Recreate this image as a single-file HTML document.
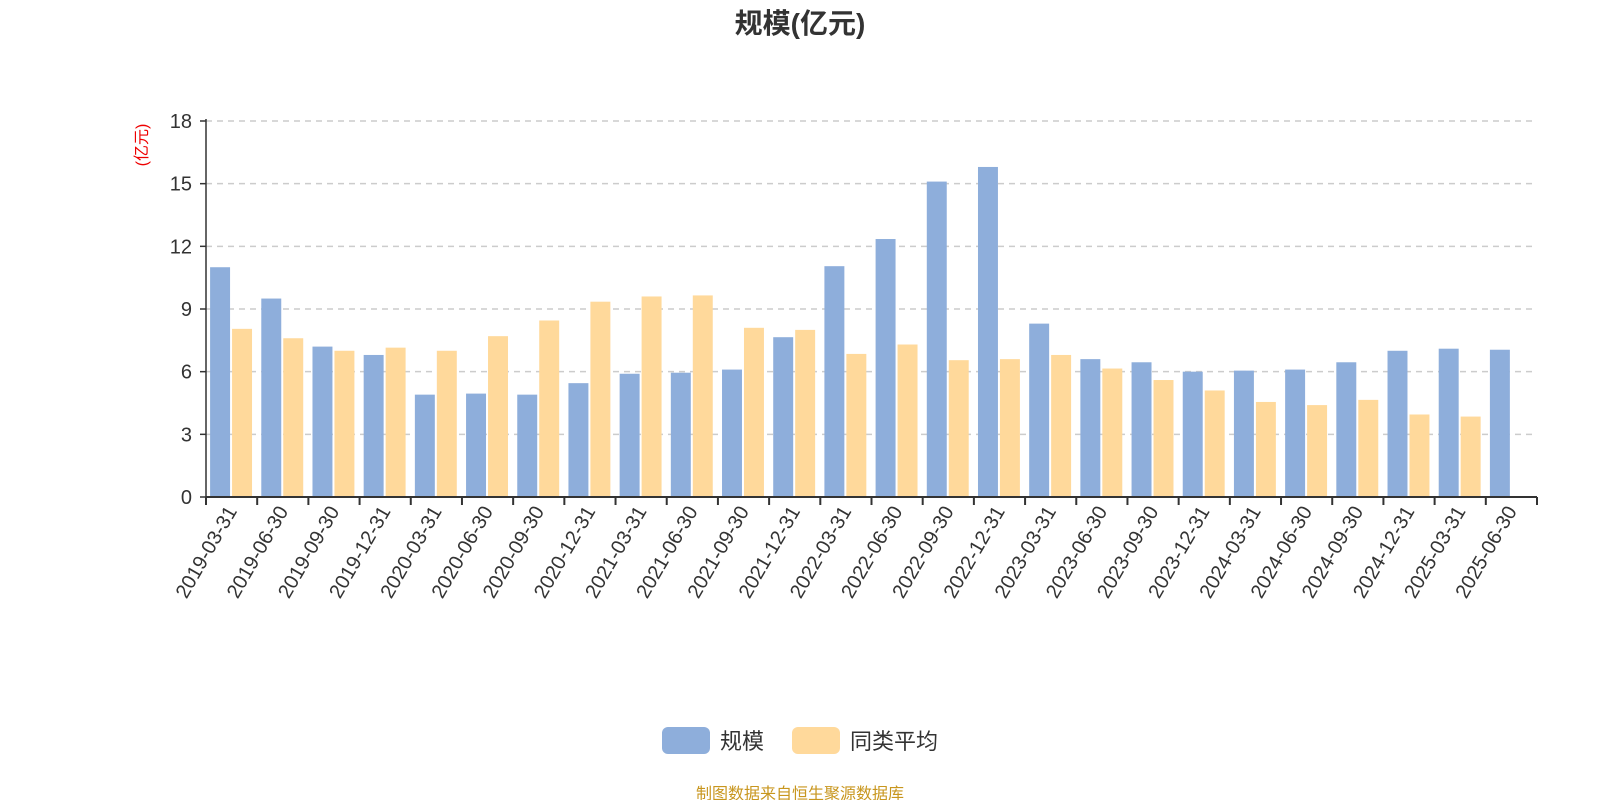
<!DOCTYPE html>
<html><head><meta charset="utf-8"><style>
body{margin:0;background:#fff;width:1600px;height:800px;overflow:hidden;font-family:"Liberation Sans","Noto Sans CJK SC",sans-serif}
</style></head><body>
<svg id="c" width="1600" height="800" xmlns="http://www.w3.org/2000/svg"></svg>
<script>
const categories=["2019-03-31","2019-06-30","2019-09-30","2019-12-31","2020-03-31","2020-06-30","2020-09-30","2020-12-31","2021-03-31","2021-06-30","2021-09-30","2021-12-31","2022-03-31","2022-06-30","2022-09-30","2022-12-31","2023-03-31","2023-06-30","2023-09-30","2023-12-31","2024-03-31","2024-06-30","2024-09-30","2024-12-31","2025-03-31","2025-06-30"];
const scaleValues=[11.0,9.5,7.2,6.8,4.9,4.95,4.9,5.45,5.9,5.95,6.1,7.65,11.05,12.35,15.1,15.8,8.3,6.6,6.45,6.0,6.05,6.1,6.45,7.0,7.1,7.05];
const avgValues=[8.05,7.6,7.0,7.15,7.0,7.7,8.45,9.35,9.6,9.65,8.1,8.0,6.85,7.3,6.55,6.6,6.8,6.15,5.6,5.1,4.55,4.4,4.65,3.95,3.85,null];
const yTicks=[0,3,6,9,12,15,18];
const svg=document.getElementById('c');const NS='http://www.w3.org/2000/svg';
function mk(t,a,p){const e=document.createElementNS(NS,t);for(const k in a)e.setAttribute(k,a[k]);(p||svg).appendChild(e);return e;}
const X0=206,X1=1537,Y0=497,Y1=121,band=(X1-X0)/categories.length;
const y=v=>Y0-(v/18)*(Y0-Y1);const xb=i=>X0+i*band;
let t=mk('text',{x:800,y:33,'text-anchor':'middle','font-size':28,'font-weight':'bold',fill:'#333'});t.textContent='规模(亿元)';

yTicks.forEach(v=>{
 if(v>0){const g=mk('line',{x1:X0,x2:X1,y1:y(v),y2:y(v),stroke:'#ccc','stroke-width':1.5,'stroke-dasharray':'6,5'});}
 const l=mk('text',{x:X0-14,y:y(v)+7,'text-anchor':'end','font-size':20,fill:'#333'});l.textContent=v;
 
 mk('line',{x1:X0-6,x2:X0,y1:y(v),y2:y(v),stroke:'#333','stroke-width':1.5});
});
let yl=mk('text',{transform:'translate(147,145) rotate(-90)','text-anchor':'middle','font-size':16,fill:'#e00'});yl.textContent='(亿元)';

const bw=band*0.39;
categories.forEach((c,i)=>{
 const b=mk('rect',{x:xb(i)+band*0.08,y:y(scaleValues[i]),width:bw,height:Y0-y(scaleValues[i]),fill:'#8eaedb'});
 
 if(avgValues[i]!=null){const a=mk('rect',{x:xb(i)+band*0.08+bw+2,y:y(avgValues[i]),width:bw,height:Y0-y(avgValues[i]),fill:'#ffd99b'});
 }
 const l=mk('text',{transform:`translate(${xb(i)+band/2+6},${Y0+14}) rotate(-60)`,'text-anchor':'end','font-size':20,fill:'#333'});l.textContent=c;
 
});
for(let i=0;i<=categories.length;i++)mk('line',{x1:xb(i),x2:xb(i),y1:Y0,y2:Y0+8,stroke:'#333','stroke-width':2});
let ax=mk('line',{x1:X0,x2:X1,y1:Y0,y2:Y0,stroke:'#333','stroke-width':2});
let ay=mk('line',{x1:X0,x2:X0,y1:Y1-2,y2:Y0,stroke:'#333','stroke-width':1.5});
[['规模','#8eaedb',662],['同类平均','#ffd99b',792]].forEach(([n,col,x])=>{
 const g=mk('g',{});
 mk('rect',{x:x,y:727,width:48,height:27,rx:6,fill:col},g);
 const tt=mk('text',{x:x+58,y:749,'font-size':22,fill:'#333'},g);tt.textContent=n;
});
let f=mk('text',{x:800,y:799,'text-anchor':'middle','font-size':16,fill:'#c8961e'});f.textContent='制图数据来自恒生聚源数据库';

</script></body></html>
